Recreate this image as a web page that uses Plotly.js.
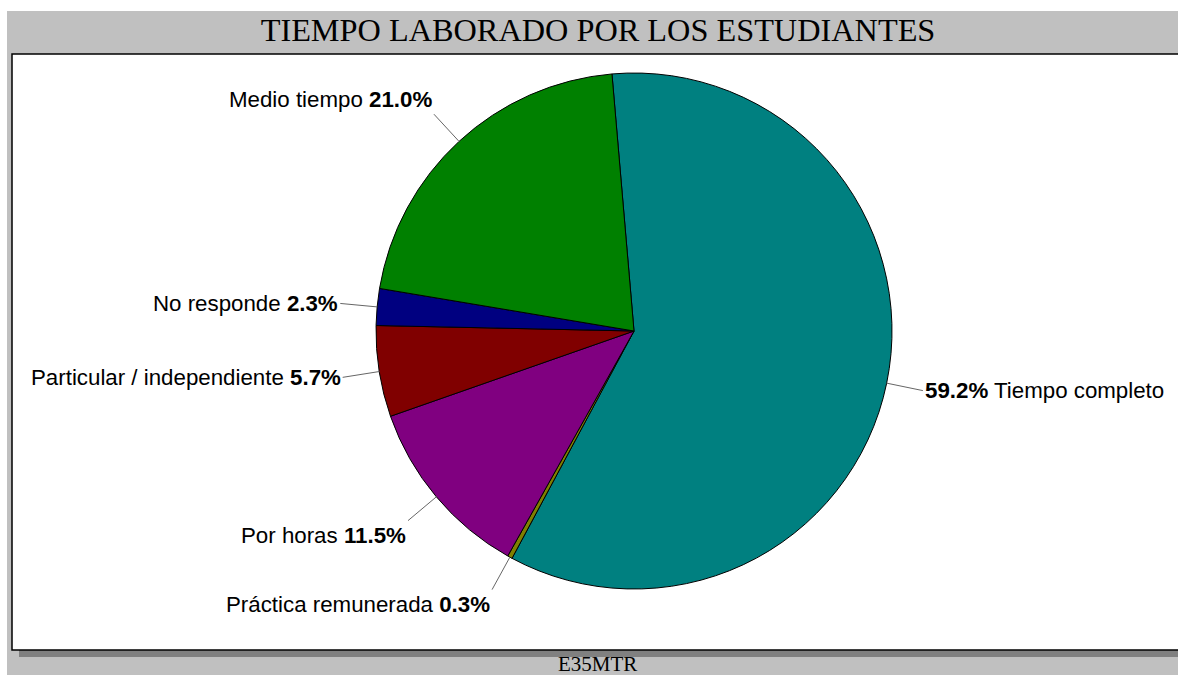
<!DOCTYPE html>
<html><head><meta charset="utf-8">
<script src="https://cdn.plot.ly/plotly-3.0.1.min.js"></script>
<style>html,body{margin:0;padding:0;background:#fff;overflow:hidden}</style>
</head><body><div id="chart" style="width:1178px;height:675px"></div>
<script>
const categories = ['Tiempo completo','Práctica remunerada','Por horas','Particular / independiente','No responde','Medio tiempo'];
const shares = [59.2, 0.3, 11.5, 5.7, 2.3, 21.0];
const sliceColors = ['#008080','#808000','#800080','#800000','#000080','#008000'];
const chartTitle = 'TIEMPO LABORADO POR LOS ESTUDIANTES';
const footerText = 'E35MTR';

const W = 1178, H = 675;
const cx = 634, cy = 331, R = 258, rot = -4.9, lead = 37;
const px = v => v / W, py = v => 1 - v / H;

const shapes = [
  {type:'rect', layer:'below', xref:'paper', yref:'paper', x0:px(7), x1:px(1200), y0:py(11), y1:py(700), fillcolor:'#c0c0c0', line:{width:0}},
  {type:'rect', layer:'below', xref:'paper', yref:'paper', x0:px(19), x1:px(1200), y0:py(57), y1:py(657), fillcolor:'#808080', line:{width:0}},
  {type:'rect', layer:'below', xref:'paper', yref:'paper', x0:px(12), x1:px(1200), y0:py(54), y1:py(650), fillcolor:'#ffffff', line:{color:'#000000', width:1.5}}
];
const annotations = [];

const total = shares.reduce((a, b) => a + b, 0);
let acc = 0;
shares.forEach((v, i) => {
  const mid = (rot + (acc + v / 2) / total * 360) * Math.PI / 180;
  acc += v;
  const sx = Math.sin(mid), cv = Math.cos(mid);
  const x0 = cx + R * sx, y0 = cy - R * cv;
  const x1 = cx + (R + lead) * sx, y1 = cy - (R + lead) * cv;
  const right = sx > 0;
  shapes.push({type:'line', xref:'paper', yref:'paper', x0:px(x0), y0:py(y0), x1:px(x1), y1:py(y1), line:{color:'#666666', width:1}});
  const pct = '<b>' + v.toFixed(1) + '%</b>';
  annotations.push({
    xref:'paper', yref:'paper', x:px(x1), y:py(y1), showarrow:false,
    text: right ? pct + ' ' + categories[i] : categories[i] + ' ' + pct,
    xanchor: right ? 'left' : 'right',
    yanchor: cv > 0.5 ? 'bottom' : (cv < -0.5 ? 'top' : 'middle'),
    font:{family:'Liberation Sans, Arial, sans-serif', size:22.3, color:'#000'}
  });
});

annotations.push({xref:'paper', yref:'paper', x:px(597), y:py(664), showarrow:false, text:footerText,
  xanchor:'center', yanchor:'middle', font:{family:'Liberation Serif, Times New Roman, serif', size:21, color:'#000'}});

const data = [{
  type:'pie', labels:categories, values:shares, sort:false, direction:'clockwise', rotation:rot,
  marker:{colors:sliceColors, line:{color:'#000000', width:1}},
  textinfo:'none', showlegend:false, hoverinfo:'label+percent',
  domain:{x:[px(cx - R), px(cx + R)], y:[py(cy + R), py(cy - R)]}
}];

const layout = {
  width:W, height:H, margin:{l:0, r:0, t:0, b:0},
  paper_bgcolor:'#ffffff', plot_bgcolor:'#ffffff', showlegend:false,
  title:{text:chartTitle, x:px(598), y:py(30), xanchor:'center', yanchor:'middle', xref:'paper', yref:'container',
    font:{family:'Liberation Serif, Times New Roman, serif', size:32.3, color:'#000'}},
  shapes:shapes, annotations:annotations
};
Plotly.newPlot('chart', data, layout, {displayModeBar:false, staticPlot:true});
</script></body></html>
